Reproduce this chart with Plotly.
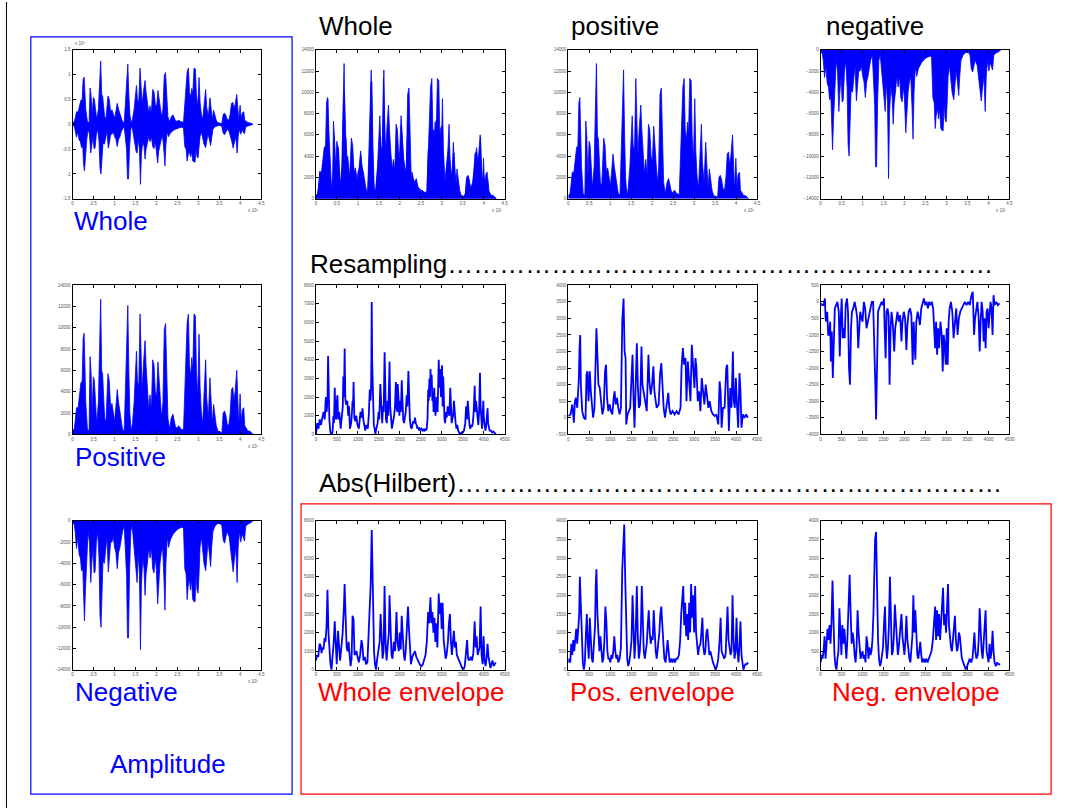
import plotly.graph_objects as go

W, H = 1074, 811
FONT = "Liberation Sans, Arial, Helvetica, sans-serif"
BLUE = "#0000FF"

# ---------------- data ----------------
# upper (positive) envelope of the speech waveform, x = sample index, y = amplitude
amp_pos = [(0,300),(3950,500),(6300,1200),(9500,2500),(13400,2500),(15800,3200),(19700,4800),(22900,5000),
 (25300,9000),(27600,9500),(30000,6000),(31600,3000),(35500,500),(39500,300),(41800,7300),(44200,5800),
 (46600,2000),(49700,5400),(52100,5000),(54500,2500),(57600,1000),(61600,3000),(64700,8000),(67100,12700),
 (69500,6000),(71800,5600),(74200,3500),(76600,1500),(79700,1200),(84500,5700),(87600,5000),(90800,2500),
 (94000,2900),(97100,2000),(100300,1200),(103400,2600),(106600,4200),(109700,3000),(112900,2000),(116100,1000),
 (119200,500),(123200,300),(126300,4300),(129500,10500),(131800,12100),(134200,6000),(136600,2000),(139700,300),
 (142900,1000),(146800,3000),(150000,6000),(152400,7800),(154700,5000),(157900,4500),(161000,11300),(163400,6000),
 (165800,4000),(169000,6500),(172900,8800),(175300,6500),(178400,4000),(181600,2300),(184700,3700),(187900,2200),
 (191100,7000),(194200,6500),(197400,4000),(200500,3500),(203700,6800),(206100,5000),(209200,3000),(212400,1500),
 (215500,3000),(218700,9800),(221800,10400),(224200,5000),(227400,1500),(231300,500),(235300,1500),(239200,1900),
 (242400,1200),(245500,700),(248700,600),(253400,800),(258200,500),(264500,400),(267600,4000),(270000,6400),
 (273200,10500),(276300,11300),(278700,6500),(281900,5500),(284200,7200),(286600,6000),(289700,11300),(292900,11100),
 (295300,6000),(298400,3500),(301600,9400),(304000,4500),(307100,2000),(310300,1000),(314200,4500),(317400,7000),
 (319700,3500),(323700,1500),(327600,5300),(330000,3000),(333200,1000),(336300,2800),(339500,1500),(342600,800),
 (346600,300),(351300,200),(356100,150),(359200,2000),(362400,2200),(365500,1800),(368700,1000),(372600,800),
 (375800,2000),(379000,4200),(382100,4400),(384500,3200),(387600,4000),(391600,6000),(394000,2500),(396300,800),
 (399500,3800),(401900,1200),(405000,2300),(408200,2500),(410500,800),(414500,500),(418400,300),(422400,300),
 (427900,100),(430300,0)]

# lower (negative) envelope of the speech waveform
amp_neg = [(0,-300),(3950,-300),(6300,-1000),(9500,-2600),(12600,-1500),(15800,-3200),(18900,-3500),(21300,-4700),
 (24500,-4500),(26000,-7800),(28400,-9400),(30800,-6500),(34000,-3000),(37100,-1000),(40300,-2000),(43400,-5800),
 (45800,-4000),(48900,-2500),(51300,-4900),(53700,-4800),(56800,-2000),(60000,-1000),(63100,-3500),(65500,-8900),
 (67900,-10000),(70300,-6000),(72600,-3800),(75800,-4000),(79000,-3000),(82100,-1500),(85300,-4800),(88400,-3500),
 (90800,-2000),(94000,-2000),(97100,-1500),(100300,-2500),(103400,-3000),(106600,-4500),(109700,-3000),(112900,-2500),
 (116100,-1500),(119200,-1000),(123200,-500),(126300,-3500),(128900,-5200),(131000,-11000),(133400,-11000),(135800,-5000),
 (138900,-1000),(142100,-500),(145200,-2000),(148400,-3500),(151600,-5500),(154000,-5800),(156300,-3000),(159500,-5000),
 (161900,-12100),(164300,-6000),(167400,-3500),(170600,-4500),(172900,-7000),(175300,-5000),(178400,-4000),(181600,-2500),
 (184700,-3500),(187900,-2500),(191100,-4500),(194200,-4900),(197400,-3500),(199800,-4500),(203000,-7800),(205300,-5500),
 (208500,-4000),(211600,-3000),(214800,-2500),(218000,-5500),(220300,-8400),(222700,-4000),(225900,-1500),(229000,-2500),
 (233000,-1800),(236900,-1500),(240800,-1200),(245600,-1000),(250300,-800),(255100,-700),(260600,-600),(264500,-700),
 (267600,-4500),(270800,-5000),(273200,-7400),(275500,-6200),(278700,-5500),(281100,-6500),(283400,-5500),(286600,-7400),
 (289700,-7600),(292100,-7600),(294500,-5000),(296800,-6500),(299200,-6800),(301600,-5000),(303900,-2500),(307100,-1500),
 (310300,-3000),(313400,-4000),(317400,-4700),(319700,-3500),(322900,-2000),(326100,-3000),(329200,-4300),(331600,-2500),
 (334700,-1000),(339500,-500),(345000,-300),(351300,-200),(356100,-500),(359200,-1800),(362400,-2100),(365500,-1500),
 (368700,-1000),(373400,-1500),(376600,-2500),(379800,-3500),(382900,-4800),(386100,-3500),(389200,-2500),(392400,-5800),
 (394800,-2500),(397900,-1000),(401100,-2000),(404200,-1200),(406600,-1500),(409800,-1900),(412900,-500),(418400,-300),
 (424000,-200),(427900,-100),(430300,0)]

# resampled signals (x = resampled index)
res_whole = [(0,0),(30,600),(60,300),(90,800),(120,500),(150,900),(180,1200),(210,800),(236,2000),(255,1200),(275,1800),
 (290,4200),(305,1500),(320,800),(340,200),(360,0),(395,100),(417,1000),(430,600),(449,2500),(465,1000),(480,800),
 (500,1800),(512,2100),(530,800),(555,1200),(590,300),(620,1000),(640,1500),(653,3100),(668,2000),(685,4600),(700,1900),
 (720,1600),(748,1800),(770,1000),(790,1500),(810,300),(840,600),(860,1200),(873,1800),(885,1500),(897,2800),(915,900),
 (940,700),(960,1000),(990,500),(1023,300),(1045,800),(1062,1200),(1085,900),(1110,1400),(1130,800),(1150,400),(1175,200),
 (1200,500),(1236,300),(1260,1000),(1283,2400),(1300,1800),(1314,2400),(1322,4000),(1330,7100),(1340,4000),(1350,3000),
 (1365,1200),(1380,500),(1400,300),(1417,0),(1440,300),(1470,600),(1495,1200),(1510,800),(1535,2700),(1550,2000),
 (1565,1000),(1580,600),(1598,1500),(1615,1200),(1637,4400),(1655,1500),(1670,800),(1690,600),(1710,1800),(1725,1000),
 (1740,2000),(1755,3900),(1770,1500),(1790,800),(1810,300),(1840,700),(1865,1000),(1885,1500),(1905,2800),(1920,1500),
 (1940,1200),(1950,2700),(1970,1300),(1990,1000),(2007,1800),(2025,1200),(2046,2900),(2060,1500),(2080,800),(2100,600),
 (2120,1000),(2140,1200),(2164,2100),(2180,1500),(2204,3400),(2220,1800),(2240,800),(2260,400),(2280,300),(2300,500),
 (2320,700),(2340,600),(2361,900),(2380,600),(2400,500),(2420,300),(2440,400),(2460,200),(2480,300),(2500,250),
 (2520,300),(2540,200),(2560,250),(2580,200),(2597,300),(2620,200),(2640,300),(2660,800),(2676,2400),(2690,1800),
 (2705,3000),(2720,2000),(2731,3500),(2745,2500),(2760,3200),(2775,1800),(2790,2300),(2805,1200),(2820,2500),(2833,1800),
 (2850,1000),(2865,1500),(2880,2000),(2900,1200),(2915,3000),(2928,4000),(2945,2500),(2955,3000),(2967,3500),(2980,2000),
 (2995,2500),(3006,3700),(3020,1500),(3035,3100),(3050,1500),(3065,800),(3080,600),(3100,1200),(3120,900),(3140,1500),
 (3160,1200),(3180,1000),(3203,2500),(3220,1000),(3235,600),(3250,800),(3270,1000),(3290,1800),(3310,1000),(3330,600),
 (3350,300),(3370,500),(3390,200),(3410,100),(3440,0),(3470,100),(3502,100),(3530,200),(3560,600),(3581,1500),(3600,800),
 (3620,1800),(3640,1000),(3660,500),(3680,300),(3700,500),(3720,400),(3740,600),(3760,1200),(3785,2600),(3800,1200),
 (3815,1800),(3830,1500),(3850,800),(3870,500),(3890,1200),(3911,3300),(3925,1500),(3940,500),(3960,300),(3975,1000),
 (3990,1800),(4005,800),(4020,300),(4040,200),(4055,400),(4068,800),(4080,1000),(4092,1400),(4105,600),(4120,300),
 (4140,200),(4171,200),(4200,100),(4230,150),(4249,100),(4270,50),(4290,0)]

res_pos = [(0,50),(55,100),(95,400),(134,-150),(158,500),(182,600),(213,300),(237,900),(253,1200),(268,2100),(284,2500),
 (300,1000),(332,200),(371,0),(411,-50),(434,1300),(458,1400),(482,500),(513,1400),(537,800),(561,300),(592,0),(624,300),
 (647,1800),(671,2700),(695,1900),(718,1000),(750,900),(782,400),(813,100),(845,300),(876,1400),(900,1600),(924,600),
 (955,200),(987,400),(1018,200),(1050,100),(1082,600),(1105,800),(1129,400),(1161,600),(1192,300),(1224,100),(1255,300),
 (1287,2900),(1318,3600),(1342,2000),(1366,1800),(1382,-200),(1413,100),(1445,200),(1476,300),(1500,1000),(1532,1900),
 (1555,600),(1579,-300),(1603,800),(1634,2250),(1658,1000),(1682,300),(1713,400),(1745,2150),(1768,1000),(1792,800),
 (1832,400),(1871,200),(1911,1900),(1934,1100),(1966,700),(1997,1000),(2029,1550),(2053,800),(2084,500),(2108,300),
 (2155,400),(2187,1300),(2218,1650),(2242,800),(2274,300),(2305,0),(2329,200),(2361,600),(2384,750),(2408,300),(2440,100),
 (2487,200),(2534,100),(2582,200),(2629,100),(2676,300),(2700,1500),(2732,2100),(2763,1600),(2795,1800),(2818,500),
 (2850,1700),(2882,1000),(2913,500),(2945,2200),(2976,1700),(3008,900),(3032,1800),(3055,1500),(3087,500),(3118,800),
 (3150,200),(3182,1200),(3213,800),(3245,400),(3276,1000),(3308,700),(3340,300),(3371,500),(3411,200),(3450,100),
 (3490,50),(3529,100),(3576,-200),(3608,1100),(3632,800),(3655,-300),(3687,300),(3726,300),(3766,1500),(3790,1600),
 (3813,300),(3829,-400),(3861,900),(3892,300),(3924,2000),(3947,500),(3971,300),(3995,1200),(4018,500),(4050,-300),
 (4082,1350),(4105,800),(4129,-300),(4161,100),(4200,0),(4240,100),(4279,0)]

res_neg = [(0,-50),(39,-100),(71,-100),(102,100),(118,-500),(134,-600),(157,-300),(181,-1000),(205,-1000),(228,-600),
 (244,-1800),(267,-900),(291,-2300),(315,-1000),(338,-200),(370,-100),(401,0),(433,-300),(456,-1650),(480,-500),(503,100),
 (527,-1100),(551,-800),(574,-1100),(598,-100),(629,100),(653,-300),(677,-2000),(700,-2500),(724,-800),(747,-300),
 (779,-200),(810,0),(842,-200),(873,-500),(897,-1400),(920,-700),(944,-300),(975,-500),(999,-600),(1031,0),(1062,-200),
 (1094,-800),(1125,-600),(1156,-300),(1188,-100),(1219,0),(1251,0),(1282,-1200),(1306,-2600),(1322,-3550),(1345,-1500),
 (1369,-300),(1392,-200),(1424,-100),(1455,0),(1487,-100),(1510,100),(1526,-800),(1550,-1700),(1573,-300),(1596,-200),
 (1620,-400),(1644,-2500),(1668,-800),(1691,-300),(1723,-700),(1754,-1500),(1778,-800),(1801,-500),(1833,-300),
 (1864,-600),(1896,-400),(1927,-1200),(1951,-600),(1982,-300),(2014,-500),(2045,-1450),(2069,-700),(2100,-300),
 (2132,-200),(2163,-400),(2195,-1900),(2218,-600),(2258,-1750),(2281,-600),(2313,-300),(2344,-500),(2368,-700),
 (2399,-200),(2431,0),(2462,100),(2494,-100),(2525,0),(2557,-200),(2588,0),(2620,-100),(2651,0),(2683,-200),(2706,-1000),
 (2730,-1400),(2753,-600),(2777,-1600),(2800,-800),(2824,-1400),(2856,-600),(2887,-1000),(2911,-2100),(2934,-1000),
 (2958,-1300),(2982,-1900),(3005,-800),(3029,-1900),(3052,-600),(3076,-200),(3107,0),(3139,-300),(3170,-1100),(3202,-600),
 (3233,-200),(3265,-1000),(3296,-500),(3328,-300),(3359,-200),(3399,-100),(3438,0),(3477,-100),(3517,0),(3556,-100),
 (3595,200),(3627,300),(3642,-500),(3658,-1000),(3682,-500),(3705,-200),(3737,0),(3768,-500),(3792,-1500),(3815,-600),
 (3839,0),(3863,-300),(3886,-1200),(3910,-500),(3933,-1400),(3957,-300),(3981,-200),(4004,-800),(4028,-300),(4051,0),
 (4075,-200),(4099,-1000),(4122,200),(4146,-100),(4185,0),(4225,-100),(4264,-50)]

# Abs(Hilbert) envelopes
env_whole = [(0,500),(24,800),(55,700),(87,1400),(110,1300),(134,900),(157,1200),(181,1100),(205,1700),(228,1500),
 (252,2300),(275,4300),(299,2000),(323,900),(346,300),(370,0),(401,800),(425,1500),(448,2600),(472,1200),(496,300),
 (527,2100),(551,1000),(574,500),(606,1200),(637,2000),(669,3500),(684,4600),(708,2800),(732,1200),(755,1000),(779,1500),
 (802,800),(826,200),(850,600),(873,2900),(897,2700),(920,800),(944,900),(968,1000),(991,700),(1023,400),(1054,800),
 (1086,1600),(1109,1300),(1133,500),(1164,700),(1196,300),(1227,400),(1259,2000),(1282,3500),(1306,4600),(1330,7500),
 (1345,5000),(1361,2500),(1385,1000),(1408,300),(1432,0),(1455,500),(1487,1200),(1518,1500),(1542,3000),(1566,1200),
 (1589,600),(1613,1000),(1636,4500),(1660,1500),(1684,500),(1715,1400),(1739,2000),(1754,4000),(1778,1500),(1802,800),
 (1825,600),(1857,1500),(1888,1000),(1920,3100),(1943,1500),(1975,1000),(1998,2000),(2022,1100),(2045,2900),(2069,1500),
 (2093,900),(2116,500),(2140,1000),(2163,2000),(2195,3400),(2218,2200),(2242,800),(2266,300),(2297,700),(2329,900),
 (2360,1000),(2392,700),(2423,500),(2454,400),(2486,250),(2517,200),(2549,300),(2580,500),(2612,800),(2643,1500),
 (2675,3100),(2699,2500),(2730,3900),(2753,2500),(2777,3100),(2801,2000),(2824,2800),(2848,1500),(2871,2500),(2895,1200),
 (2927,4100),(2950,3000),(2974,3600),(2998,2200),(3021,3600),(3045,1600),(3068,1000),(3092,600),(3115,800),(3147,1500),
 (3171,2500),(3194,3000),(3218,1500),(3241,800),(3265,1500),(3289,2100),(3312,1200),(3336,1500),(3359,800),(3391,600),
 (3422,400),(3454,300),(3485,100),(3517,0),(3548,200),(3580,1000),(3603,1600),(3627,600),(3658,500),(3690,700),
 (3721,500),(3753,900),(3784,2600),(3808,1200),(3831,1800),(3855,800),(3879,1000),(3902,1200),(3926,3400),(3949,800),
 (3973,300),(3997,1800),(4020,500),(4044,200),(4067,600),(4091,1400),(4115,700),(4138,300),(4162,100),(4186,300),
 (4209,500),(4240,200),(4272,300),(4287,400)]

env_pos = [(0,200),(24,300),(47,200),(71,700),(95,400),(118,800),(142,500),(166,900),(189,1100),(213,700),(237,1200),
 (261,1500),(276,2500),(300,1500),(324,500),(347,200),(371,0),(395,200),(418,900),(442,1500),(466,700),(489,300),
 (513,1400),(537,600),(561,300),(584,200),(608,600),(639,1200),(655,2300),(671,2700),(695,1500),(718,800),(742,500),
 (766,900),(789,500),(813,200),(837,300),(861,800),(884,1700),(908,1300),(932,500),(955,300),(979,300),(1003,200),
 (1026,400),(1050,300),(1074,500),(1097,900),(1121,500),(1145,300),(1168,400),(1192,200),(1224,300),(1255,600),
 (1287,2700),(1311,3500),(1334,3900),(1358,2400),(1382,800),(1405,300),(1429,100),(1453,200),(1476,400),(1508,800),
 (1532,2000),(1555,1000),(1579,300),(1603,800),(1634,2250),(1658,900),(1682,300),(1705,500),(1729,1000),(1753,2250),
 (1776,1000),(1800,500),(1824,300),(1847,500),(1871,700),(1895,1200),(1918,1600),(1942,1000),(1966,700),(1990,900),
 (2013,800),(2037,1600),(2061,900),(2084,500),(2108,300),(2140,600),(2171,1000),(2195,1500),(2218,1700),(2242,1200),
 (2266,600),(2290,300),(2321,200),(2345,500),(2368,800),(2392,500),(2416,200),(2447,300),(2479,200),(2511,300),
 (2542,200),(2574,300),(2605,300),(2637,400),(2668,800),(2692,1500),(2716,1900),(2740,2250),(2763,1200),(2787,1800),
 (2811,900),(2834,1500),(2858,800),(2882,1800),(2905,1000),(2929,2300),(2953,1400),(2976,2000),(3000,1000),(3024,2250),
 (3047,1000),(3071,600),(3095,400),(3118,600),(3150,700),(3174,1000),(3197,1400),(3221,600),(3245,400),(3268,500),
 (3292,1000),(3316,1100),(3340,600),(3363,400),(3387,500),(3419,300),(3450,200),(3482,100),(3513,0),(3545,100),
 (3576,300),(3608,800),(3632,1400),(3655,500),(3687,400),(3719,300),(3750,400),(3774,1000),(3797,1700),(3821,800),
 (3845,500),(3869,400),(3892,500),(3916,2000),(3940,800),(3963,300),(3987,500),(4011,1400),(4034,500),(4058,200),
 (4082,700),(4105,1300),(4129,400),(4153,100),(4176,0),(4200,100),(4224,150),(4255,150),(4287,200)]

env_neg = [(0,200),(24,400),(47,300),(71,500),(94,900),(118,300),(142,700),(165,1100),(189,800),(212,1200),(236,700),
 (260,1300),(283,2400),(307,1200),(330,400),(354,100),(378,0),(401,300),(425,500),(448,1650),(472,700),(496,400),
 (519,1200),(543,700),(566,1100),(590,500),(614,300),(637,800),(661,1500),(677,2300),(692,2550),(716,1500),(739,700),
 (763,1000),(787,800),(810,400),(834,200),(857,600),(881,1600),(905,1000),(928,500),(952,300),(975,400),(999,500),
 (1023,300),(1046,400),(1070,200),(1094,900),(1117,700),(1141,300),(1164,600),(1188,400),(1212,500),(1235,800),
 (1259,1500),(1282,2700),(1298,3500),(1322,3700),(1345,2000),(1369,800),(1392,300),(1416,100),(1440,200),(1463,500),
 (1487,600),(1510,1200),(1534,1700),(1558,700),(1581,300),(1605,600),(1628,1200),(1652,2500),(1676,1100),(1699,400),
 (1723,500),(1746,900),(1770,1750),(1794,1200),(1817,600),(1841,400),(1864,600),(1896,1000),(1927,1500),(1951,900),
 (1975,600),(1998,400),(2022,800),(2045,1450),(2069,800),(2093,500),(2116,300),(2140,200),(2163,500),(2187,900),
 (2211,2000),(2234,1000),(2258,1600),(2281,800),(2305,400),(2329,300),(2352,500),(2376,750),(2399,400),(2423,200),
 (2454,300),(2486,200),(2517,300),(2549,200),(2580,300),(2612,400),(2643,500),(2675,800),(2706,1500),(2730,1700),
 (2753,800),(2777,1600),(2800,900),(2824,1500),(2848,800),(2871,1300),(2895,1900),(2919,2200),(2942,1200),(2966,1500),
 (2990,1000),(3013,2000),(3037,2300),(3060,1200),(3084,800),(3107,600),(3131,500),(3155,800),(3178,1200),(3202,1450),
 (3225,800),(3249,500),(3273,600),(3296,1000),(3320,900),(3344,500),(3367,300),(3399,200),(3430,100),(3462,0),
 (3493,100),(3524,200),(3556,300),(3587,200),(3619,300),(3642,600),(3666,1000),(3690,500),(3713,300),(3745,400),
 (3768,800),(3792,1650),(3815,900),(3839,500),(3863,300),(3886,800),(3910,1250),(3933,1600),(3957,500),(3981,300),
 (4004,200),(4028,700),(4051,300),(4075,500),(4099,1050),(4122,500),(4146,200),(4177,100),(4209,200),(4240,150),
 (4280,150)]

# axis tick definitions
amp_x_ticks = [0, 50000, 100000, 150000, 200000, 250000, 300000, 350000, 400000, 450000]
amp_x_labels = ["0", "0.5", "1", "1.5", "2", "2.5", "3", "3.5", "4", "4.5"]
whole_y_ticks = [-15000, -10000, -5000, 0, 5000, 10000, 15000]
whole_y_labels = ["-1.5", "-1", "-0.5", "0", "0.5", "1", "1.5"]

# ---------------- figure ----------------
fig = go.Figure()

def dom_x(a, b):
    return [a / W, b / W]

def dom_y(top, bottom):
    return [1 - bottom / H, 1 - top / H]

COLS = {"L": (72, 262), "c1": (317, 507), "c2": (571, 761), "c3": (825, 1015)}
ROWS = {1: (48, 198), 2: (285, 435), 3: (522, 672)}

panels = [
    # name, col, row, kind, yrange, dtick
    ("amp_whole", "L", 1, "amp", (-15000, 15000), None),
    ("amp_pos_L", "L", 2, "amp", (0, 14000), 2000),
    ("amp_neg_L", "L", 3, "amp", (-14000, 0), 2000),
    ("abs_whole", "c1", 1, "amp", (0, 14000), 2000),
    ("pos_top", "c2", 1, "amp", (0, 14000), 2000),
    ("neg_top", "c3", 1, "amp", (-14000, 0), 2000),
    ("res_whole", "c1", 2, "res", (0, 8000), 1000),
    ("res_pos", "c2", 2, "res", (-500, 4000), 500),
    ("res_neg", "c3", 2, "res", (-4000, 500), 500),
    ("env_whole", "c1", 3, "res", (0, 8000), 1000),
    ("env_pos", "c2", 3, "res", (0, 4000), 500),
    ("env_neg", "c3", 3, "res", (0, 4000), 500),
]

tickfont = dict(size=4.5, color="#555555", family=FONT)
common = dict(showline=True, linecolor="black", linewidth=1, mirror="allticks", ticks="inside",
              ticklen=3, tickwidth=0.7, tickcolor="black", showgrid=False, zeroline=False,
              tickfont=tickfont, fixedrange=True)

annotations = []
axis_of = {}
for i, (name, col, row, kind, yr, dt) in enumerate(panels, start=1):
    xa = "xaxis" if i == 1 else f"xaxis{i}"
    ya = "yaxis" if i == 1 else f"yaxis{i}"
    xr = "x" if i == 1 else f"x{i}"
    yrf = "y" if i == 1 else f"y{i}"
    axis_of[name] = (xr, yrf)
    c0, c1 = COLS[col]
    r0, r1 = ROWS[row]
    if kind == "amp":
        xdict = dict(domain=dom_x(c0, c1), anchor=yrf, range=[0, 450000], tickmode="array",
                     tickvals=amp_x_ticks, ticktext=amp_x_labels, **common)
        annotations.append(dict(x=c1 / W, y=1 - (r1 + 12) / H, xref="paper", yref="paper",
                                text="x 10\u2075", showarrow=False, xanchor="right",
                                yanchor="middle", font=dict(size=4.5, color="#555555", family=FONT)))
    else:
        xdict = dict(domain=dom_x(c0, c1), anchor=yrf, range=[0, 4500], dtick=500, tick0=0,
                     tickformat="d", **common)
    if name == "amp_whole":
        ydict = dict(domain=dom_y(r0, r1), anchor=xr, range=list(yr), tickmode="array",
                     tickvals=whole_y_ticks, ticktext=whole_y_labels, **common)
        annotations.append(dict(x=c0 / W, y=1 - (r0 - 2) / H, xref="paper", yref="paper",
                                text="x 10\u2074", showarrow=False, xanchor="left",
                                yanchor="bottom", font=dict(size=4.5, color="#555555", family=FONT)))
    else:
        ydict = dict(domain=dom_y(r0, r1), anchor=xr, range=list(yr), dtick=dt, tick0=0,
                     tickformat="d", **common)
    fig.update_layout(**{xa: xdict, ya: ydict})


def xy(pts):
    return [p[0] for p in pts], [p[1] for p in pts]


px_, py_ = xy(amp_pos)
nx_, ny_ = xy(amp_neg)

def add_fill(name, x, y, fillmode="tozeroy"):
    xr, yr = axis_of[name]
    fig.add_trace(go.Scatter(x=x, y=y, xaxis=xr, yaxis=yr, mode="lines", fill=fillmode,
                             line=dict(color=BLUE, width=0.8), fillcolor=BLUE, showlegend=False,
                             hoverinfo="skip"))

def add_line(name, pts):
    xr, yr = axis_of[name]
    x, y = xy(pts)
    fig.add_trace(go.Scatter(x=x, y=y, xaxis=xr, yaxis=yr, mode="lines",
                             line=dict(color=BLUE, width=1.8), showlegend=False, hoverinfo="skip"))

# whole waveform: band between upper and lower envelopes
add_fill("amp_whole", px_ + nx_[::-1], py_ + ny_[::-1], "toself")
add_fill("amp_pos_L", px_, py_)
add_fill("amp_neg_L", nx_, ny_)
# |whole| = union of positive and mirrored negative parts
add_fill("abs_whole", px_, py_)
add_fill("abs_whole", nx_, [-v for v in ny_])
add_fill("pos_top", px_, py_)
add_fill("neg_top", nx_, ny_)

add_line("res_whole", res_whole)
add_line("res_pos", res_pos)
add_line("res_neg", res_neg)
add_line("env_whole", env_whole)
add_line("env_pos", env_pos)
add_line("env_neg", env_neg)

# ---------------- texts ----------------
def txt(s, xpx, ypx, color, size=26):
    annotations.append(dict(x=xpx / W, y=1 - ypx / H, xref="paper", yref="paper", text=s,
                            showarrow=False, xanchor="left", yanchor="middle",
                            font=dict(size=size, color=color, family=FONT)))

txt("Whole", 318, 24, "black")
txt("positive", 572, 24, "black")
txt("negative", 828, 24, "black")
txt("Resampling" + "\u2026" * 21, 309, 264, "black")
txt("Abs(Hilbert)" + "\u2026" * 21, 318, 484, "black")
txt("Whole", 71, 220, BLUE)
txt("Positive", 72, 458, BLUE)
txt("Negative", 72, 694, BLUE)
txt("Amplitude", 108, 767, BLUE)
txt("Whole envelope", 317, 694, "red")
txt("Pos. envelope", 571, 694, "red")
txt("Neg. envelope", 834, 694, "red")

shapes = [
    dict(type="rect", xref="paper", yref="paper", x0=30 / W, x1=293 / W, y0=1 - 797 / H, y1=1 - 35 / H,
         line=dict(color=BLUE, width=1.2)),
    dict(type="rect", xref="paper", yref="paper", x0=302 / W, x1=1057 / W, y0=1 - 797 / H, y1=1 - 505 / H,
         line=dict(color="red", width=1.2)),
    dict(type="line", xref="paper", yref="paper", x0=5.5 / W, x1=5.5 / W, y0=0, y1=1,
         line=dict(color="black", width=1)),
]

fig.update_layout(width=W, height=H, margin=dict(l=0, r=0, t=0, b=0), paper_bgcolor="white",
                  plot_bgcolor="white", showlegend=False, annotations=annotations, shapes=shapes,
                  font=dict(family=FONT))

fig.write_html("out.html", config={"displayModeBar": False},
               post_script="document.body.style.margin='0px';document.body.style.overflow='hidden';")
